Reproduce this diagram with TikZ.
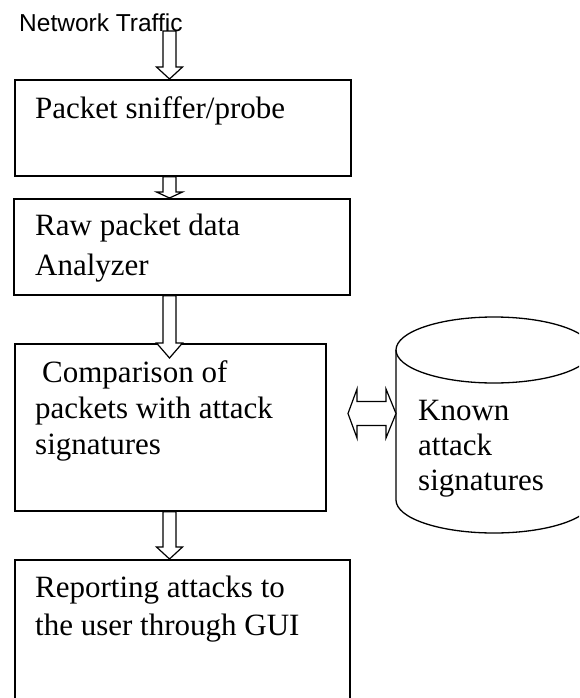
\documentclass[tikz,border=0pt]{standalone}
\usepackage{fontspec}
\setmainfont{Liberation Serif}
\newfontfamily\arialf{Liberation Sans}
\usetikzlibrary{calc}
\tikzset{
  box/.style={draw, line width=1.7pt, anchor=north west, inner sep=0pt},
  txt/.style={anchor=base west, inner sep=0pt, font=\fontsize{31}{36}\selectfont},
  blk/.style={draw, line width=1.2pt, fill=white, line join=miter},
}
\newcommand\vblk[4][blk]{%
  \draw[#1] let \p1=#2, \p2=#3 in
    (\x1-6.5pt,\y1) -- (\x1-6.5pt,\y2+#4) -- (\x1-13pt,\y2+#4) -- (\x2,\y2)
    -- (\x1+13pt,\y2+#4) -- (\x1+6.5pt,\y2+#4) -- (\x1+6.5pt,\y1) -- cycle;}
\begin{document}
\begin{tikzpicture}[x=1pt,y=-1pt]
\useasboundingbox (0,0) rectangle (579,698);
\clip (0,0) rectangle (579,698);
% boxes
\node[box, minimum width=336pt, minimum height=96pt] (b1) at (14,79) {};
\node[box, minimum width=336pt, minimum height=96pt] (b2) at (13,198) {};
\node[box, minimum width=311pt, minimum height=167pt] (b3) at (14,343) {};
\node[box, minimum width=335pt, minimum height=170pt] (b4) at (14,559) {};
% cylinder
\draw[line width=1.3pt, fill=white] (396,350) -- (396,500)
  arc[start angle=180, end angle=360, x radius=98pt, y radius=33pt] -- (592,350);
\draw[line width=1.3pt] (494,350) ellipse[x radius=98pt, y radius=33pt];
% texts
\node[anchor=base west, inner sep=0pt, font=\arialf\fontsize{24.5}{30}\selectfont] (nt) at (19,32) {Network Traffic};
\node[txt] (t1) at (35,119) {Packet sniffer/probe};
\node[txt] (t2a) at (35,235) {Raw packet data};
\node[txt] (t2b) at (35,275) {Analyzer};
\node[txt] (t3a) at (42,382) {Comparison of};
\node[txt] (t3b) at (35,418) {packets with attack};
\node[txt] (t3c) at (35,454) {signatures};
\node[txt] (t4a) at (35,597) {Reporting attacks to};
\node[txt] (t4b) at (35,635) {the user through GUI};
\node[txt] (k1) at (418,420) {Known};
\node[txt] (k2) at (418,455) {attack};
\node[txt] (k3) at (418,490) {signatures};
% arrow anchors
\coordinate (ax) at (169.5,0);
\coordinate (src) at (169.5,31);
\coordinate (L) at (348,413.5);
\coordinate (R) at (396,413.5);
% vertical block arrows
\vblk[blk, fill=none]{(src)}{(b1.north -| ax)}{12pt}
\vblk{(b1.south -| ax)}{(b2.north -| ax)}{6pt}
\vblk{(b2.south -| ax)}{($(b3.north -| ax)+(0,15)$)}{15pt}
\vblk{(b3.south -| ax)}{(b4.north -| ax)}{12pt}
% double arrow
\draw[blk] let \p1=(L), \p2=(R) in
  (\x1,\y1) -- (\x1+9pt,\y1+24.5pt) -- (\x1+9pt,\y1+12pt) -- (\x2-10pt,\y1+12pt)
  -- (\x2-10pt,\y1+24.5pt) -- (\x2,\y1) -- (\x2-10pt,\y1-24.5pt) -- (\x2-10pt,\y1-12pt)
  -- (\x1+9pt,\y1-12pt) -- (\x1+9pt,\y1-24.5pt) -- cycle;
\end{tikzpicture}
\end{document}
